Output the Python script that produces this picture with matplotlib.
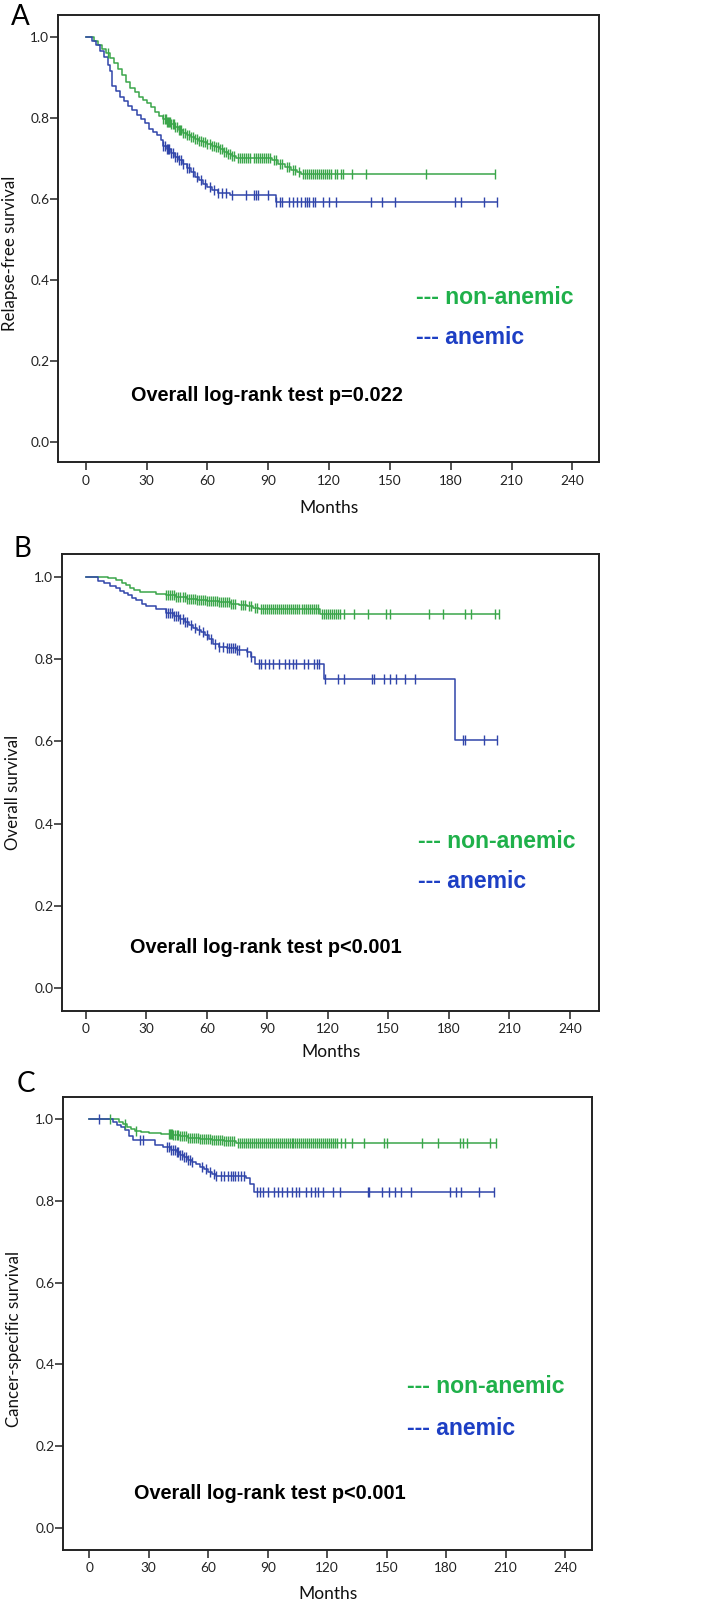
import numpy as np
import matplotlib
matplotlib.use("Agg")
import matplotlib.pyplot as plt

# ---------------- data ----------------
x_ticks = [0, 30, 60, 90, 120, 150, 180, 210, 240]
y_ticks = [0.0, 0.2, 0.4, 0.6, 0.8, 1.0]
panel_letters = ["A", "B", "C"]
y_labels = ["Relapse-free survival", "Overall survival", "Cancer-specific survival"]
x_label = "Months"
group_labels = ["--- non-anemic", "--- anemic"]
pvalue_texts = ["Overall log-rank test p=0.022",
                "Overall log-rank test p<0.001",
                "Overall log-rank test p<0.001"]

# Panel A : relapse-free survival
a_non_times = [0, 4, 6, 8, 10, 12, 14, 16, 18, 20, 22, 24, 26, 28, 30, 32, 34, 36, 38, 40,
               42, 44, 46, 48, 50, 52, 54, 56, 58, 60, 62, 64, 66, 68, 70, 72, 74, 92, 95,
               98, 101, 104, 106]
a_non_surv = [1.0, 0.99, 0.98, 0.97, 0.96, 0.948, 0.935, 0.92, 0.905, 0.888, 0.874, 0.862,
              0.852, 0.844, 0.835, 0.826, 0.815, 0.804, 0.797, 0.79, 0.783, 0.777, 0.770,
              0.763, 0.757, 0.752, 0.747, 0.743, 0.739, 0.735, 0.731, 0.727, 0.722, 0.716,
              0.711, 0.706, 0.701, 0.695, 0.686, 0.677, 0.670, 0.665, 0.661]
a_non_cens = [11, 38, 39, 39.5, 40, 40.5, 41, 41.5, 42, 43, 43.5, 44, 45, 46, 46.5, 47, 48,
              49, 50, 51, 52, 53, 54, 55, 56, 57, 58, 59, 60, 61, 62, 63, 64, 65, 66, 67, 68,
              69, 70, 71, 72, 73, 75, 76, 77, 78, 79, 80, 81, 83, 84, 85, 86, 87, 88, 89, 90,
              91, 93, 94, 96, 97, 99, 100, 102, 103, 105, 107, 108, 109, 110, 111, 112, 113,
              114, 115, 116, 117, 118, 119, 120, 121, 123, 124, 126, 127, 131.5, 138, 168,
              202]
a_ane_times = [0, 3, 5, 7, 9, 11, 12, 13, 15, 17, 19, 21, 23, 25, 27, 29, 31, 33, 35, 37,
               38, 40, 42, 44, 46, 48, 50, 52, 54, 56, 58, 60, 62, 65, 71, 94]
a_ane_surv = [1.0, 0.99, 0.978, 0.965, 0.95, 0.93, 0.915, 0.878, 0.866, 0.852, 0.84, 0.828,
              0.818, 0.807, 0.797, 0.786, 0.772, 0.765, 0.758, 0.745, 0.73, 0.722, 0.713,
              0.703, 0.695, 0.685, 0.676, 0.665, 0.654, 0.645, 0.636, 0.628, 0.62, 0.613,
              0.608, 0.592]
a_ane_cens = [38, 39, 40, 40.5, 41, 42, 43, 44, 45, 46, 47, 48, 50, 51, 53, 55, 57, 59, 61,
              63, 65, 67, 69, 72, 79, 83, 84, 85, 90, 94, 96, 97, 100, 102, 104, 106, 108,
              109, 110, 112, 113, 117, 120, 123.5, 140.5, 146, 152.5, 182, 185, 196.5, 203]

# Panel B : overall survival
b_non_times = [0, 11, 15, 18, 20, 22, 24, 27, 30, 35, 40, 45, 50, 55, 60, 66, 72, 76, 80,
               83, 86, 116]
b_non_surv = [1.0, 0.996, 0.992, 0.986, 0.98, 0.972, 0.967, 0.964, 0.962, 0.959, 0.955,
              0.951, 0.947, 0.944, 0.942, 0.939, 0.935, 0.931, 0.928, 0.925, 0.922, 0.909]
b_non_cens = [40, 41, 42, 43, 44, 45, 46, 47, 48, 49, 50, 51, 52, 53, 54, 55, 56, 57, 58, 59,
              60, 61, 62, 63, 64, 65, 66, 67, 68, 69, 70, 71, 72, 73, 74, 77, 78, 79, 81, 82,
              84, 85, 87, 88, 89, 90, 91, 92, 93, 94, 95, 96, 97, 98, 99, 100, 101, 102, 103,
              104, 105, 106, 107, 108, 109, 110, 111, 112, 113, 114, 115, 117, 118, 119, 120,
              121, 122, 123, 124, 125, 126, 128, 133, 140, 149, 151, 170, 177, 188, 191, 203,
              205]
b_ane_times = [0, 6, 9, 12, 15, 17, 19, 21, 23, 25, 28, 30, 35, 40, 44, 47, 49, 51, 53, 55,
               57, 59, 61, 63, 66, 70, 75, 80, 82, 84, 118, 183]
b_ane_surv = [1.0, 0.99, 0.984, 0.978, 0.972, 0.966, 0.96, 0.955, 0.949, 0.943, 0.935,
              0.929, 0.921, 0.911, 0.904, 0.897, 0.89, 0.882, 0.876, 0.87, 0.865, 0.858,
              0.85, 0.836, 0.830, 0.826, 0.822, 0.818, 0.806, 0.788, 0.752, 0.603]
b_ane_cens = [40, 41, 42, 43, 44, 45, 46, 47, 48, 49, 50, 52, 54, 56, 58, 60, 62, 64, 66, 68,
              70, 71, 72, 73, 74, 75, 76, 80, 82, 86, 87, 89, 91, 93, 96, 99, 101, 103,
              104.5, 108, 110, 113, 114.5, 115.5, 118.5, 125, 128, 142, 143, 148, 151, 154,
              158.5, 163.5, 187, 188, 197.5, 204]

# Panel C : cancer-specific survival
c_non_times = [0, 15, 17, 19, 21, 23, 26, 30, 36, 42, 46, 50, 52, 56, 62, 68, 74]
c_non_surv = [1.0, 0.994, 0.988, 0.982, 0.976, 0.971, 0.968, 0.966, 0.964, 0.961, 0.958,
              0.955, 0.953, 0.951, 0.949, 0.947, 0.942]
c_non_cens = [10.5, 18, 23.5, 40, 40.5, 41, 41.5, 42, 43, 44, 45, 46, 47, 48, 49, 50, 51, 52,
              53, 54, 55, 56, 57, 58, 59, 60, 61, 62, 63, 64, 65, 66, 67, 68, 69, 70, 71, 72,
              73, 75, 76, 77, 78, 79, 80, 81, 82, 83, 84, 85, 86, 87, 88, 89, 90, 91, 92, 93,
              94, 95, 96, 97, 98, 99, 100, 101, 102, 103, 104, 105, 106, 107, 108, 109, 110,
              111, 112, 113, 114, 115, 116, 117, 118, 119, 120, 121, 122, 123, 124, 125, 127,
              129, 132.5, 138.5, 148.5, 150, 168, 176, 187, 188.5, 190.5, 202, 205]
c_ane_times = [0, 12, 14, 16, 18, 20, 22, 33, 37, 41, 44, 46, 48, 50, 52, 54, 56, 58, 60,
               62, 64, 79, 81, 83]
c_ane_surv = [1.0, 0.994, 0.986, 0.98, 0.974, 0.96, 0.948, 0.937, 0.931, 0.925, 0.919,
              0.913, 0.907, 0.901, 0.896, 0.89, 0.884, 0.877, 0.87, 0.866, 0.861, 0.855,
              0.842, 0.8225]
c_ane_cens = [5, 25.5, 27, 39, 40, 41, 42, 43, 44, 45, 46, 47, 48, 49, 50, 51, 52, 57, 59,
              61, 63, 64, 66.5, 68, 70, 71.5, 72.5, 73.5, 75, 76.5, 78, 84.5, 86, 87.5, 90,
              93, 95, 97, 99.5, 102, 104.5, 106, 109.5, 112, 114, 115.5, 118, 123, 126.5,
              140.5, 141, 147.5, 151, 154, 157, 162.5, 182, 185, 187.5, 196.5, 204]

# ---------------- layout / style ----------------
W, H = 722, 1600
GREEN_LINE = "#3aa64a"
BLUE_LINE = "#3045aa"
GREEN_TXT = "#1fb04a"
BLUE_TXT = "#1d3fc4"
REG_FONT = ["Lato", "DejaVu Sans"]
BOLD_FONT = ["Liberation Sans", "DejaVu Sans"]

# axes boxes in pixels: left, top, right, bottom ; and data limits
panels = [
    dict(box=(58.3, 14.7, 599.3, 462.3), xlim=(-13.6, 253.3), ylim=(-0.051, 1.054),
         non=(a_non_times, a_non_surv, a_non_cens), ane=(a_ane_times, a_ane_surv, a_ane_cens),
         letter_xy=(11, 25), ylab_xy=(10, 253), xlab_y=508,
         leg=(163, 0.357, 0.256), pval=(22.5, 0.113)),
    dict(box=(62.3, 553.7, 599.0, 1010.7), xlim=(-11.6, 254.5), ylim=(-0.054, 1.056),
         non=(b_non_times, b_non_surv, b_non_cens), ane=(b_ane_times, b_ane_surv, b_ane_cens),
         letter_xy=(14, 557), ylab_xy=(13, 792), xlab_y=1052,
         leg=(165, 0.356, 0.259), pval=(22.2, 0.10)),
    dict(box=(63.3, 1096.7, 591.7, 1550.0), xlim=(-13.1, 253.4), ylim=(-0.054, 1.055),
         non=(c_non_times, c_non_surv, c_non_cens), ane=(c_ane_times, c_ane_surv, c_ane_cens),
         letter_xy=(17, 1092), ylab_xy=(14, 1339), xlab_y=1594,
         leg=(160, 0.347, 0.244), pval=(22.8, 0.085)),
]

fig = plt.figure(figsize=(W / 100, H / 100), dpi=100)
fig.patch.set_facecolor("white")


def km_at(times, surv, t):
    idx = np.searchsorted(np.asarray(times, float), t, side="right") - 1
    return np.asarray(surv, float)[idx]


def draw_km(ax, times, surv, cens, color):
    end = max(max(cens), times[-1])
    xs = list(times) + [end]
    ys = list(surv) + [surv[-1]]
    ax.step(xs, ys, where="post", color=color, lw=1.1, zorder=3)
    cy = km_at(times, surv, np.asarray(cens, float))
    ax.plot(cens, cy, linestyle="none", marker="|", markersize=6.5, mew=1.0,
            color=color, zorder=4)


for i, p in enumerate(panels):
    l, t, r, b = p["box"]
    ax = fig.add_axes([l / W, 1 - b / H, (r - l) / W, (b - t) / H])
    ax.set_xlim(*p["xlim"])
    ax.set_ylim(*p["ylim"])
    for s in ax.spines.values():
        s.set_linewidth(1.4)
        s.set_color("#222222")
    ax.set_xticks(x_ticks)
    ax.set_yticks(y_ticks)
    ax.set_yticklabels([f"{v:.1f}" for v in y_ticks])
    ax.tick_params(axis="both", direction="out", length=5.5, width=1.1, color="#222222",
                   labelsize=9.8, labelcolor="#222222")
    ax.tick_params(axis="y", pad=1)
    ax.tick_params(axis="x", pad=3.5)
    for lab in ax.get_xticklabels() + ax.get_yticklabels():
        lab.set_family(REG_FONT)

    draw_km(ax, *p["non"], GREEN_LINE)
    draw_km(ax, *p["ane"], BLUE_LINE)

    lx, ly1, ly2 = p["leg"]
    ax.text(lx, ly1, group_labels[0], color=GREEN_TXT, fontsize=16.6, fontweight="bold",
            family=BOLD_FONT, ha="left", va="center")
    ax.text(lx, ly2, group_labels[1], color=BLUE_TXT, fontsize=16.6, fontweight="bold",
            family=BOLD_FONT, ha="left", va="center")
    px, py = p["pval"]
    ax.text(px, py, pvalue_texts[i], color="black", fontsize=14.3, fontweight="bold",
            family=BOLD_FONT, ha="left", va="center")

    # panel letter
    fx, fy = p["letter_xy"]
    fig.text(fx / W, 1 - fy / H, panel_letters[i], fontsize=20, family=REG_FONT,
             ha="left", va="baseline", color="black")
    # y label
    yx, yy = p["ylab_xy"]
    fig.text(yx / W, 1 - yy / H, y_labels[i], rotation=90, fontsize=12.2, family=REG_FONT,
             ha="center", va="center", color="#111111")
    # x label
    fig.text(((l + r) / 2) / W, 1 - p["xlab_y"] / H, x_label, fontsize=12.5,
             family=REG_FONT, ha="center", va="center", color="#111111")

fig.savefig("out.png", dpi=100, facecolor="white")
